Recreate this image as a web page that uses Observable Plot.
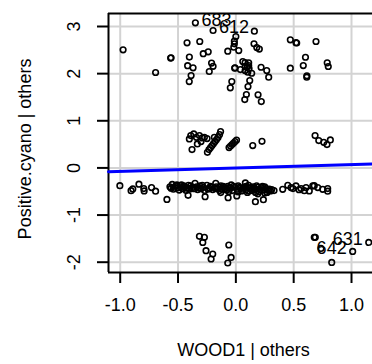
<!DOCTYPE html>
<html><head><meta charset="utf-8">
<script src="https://cdn.jsdelivr.net/npm/d3@7"></script>
<script src="https://cdn.jsdelivr.net/npm/@observablehq/plot@0.6"></script>
<style>body{margin:0;background:#fff}</style>
</head><body><div id="chart"></div>
<script>
// Added-variable plot: residuals of WOOD1 | others (x) vs Positive.cyano | others (y)
const topX = [-0.975,-0.694,-0.560,-0.564,-0.422,-0.312,-0.402,-0.417,-0.370,-0.387,-0.403,-0.282,-0.239,-0.210,-0.197,-0.230,-0.350,-0.197,0.000,-0.013,-0.013,-0.018,-0.070,0.025,0.160,0.157,0.181,0.203,0.060,0.111,0.111,-0.010,0.039,0.080,0.103,0.137,0.218,0.267,0.284,-0.035,-0.048,0.120,0.105,0.091,0.077,0.192,0.220,0.471,0.520,0.526,0.693,0.602,0.583,0.471,0.614,0.613,0.790,0.799,-0.007,0.080,0.097,0.114,0.080];
const topY = [2.505,2.024,2.335,2.331,2.654,2.682,2.352,2.168,2.123,1.960,1.832,2.423,2.463,2.225,2.155,2.045,3.079,2.915,2.788,2.688,2.633,2.561,2.476,2.490,2.900,2.633,2.554,2.522,2.257,2.229,2.172,2.115,2.087,2.066,2.030,2.008,2.136,2.066,1.924,1.832,1.699,1.854,1.726,1.556,1.450,1.550,1.408,2.718,2.656,2.650,2.682,2.348,2.172,2.115,1.955,1.924,2.229,2.151,2.123,2.236,2.151,2.108,2.151];

const midX = [-0.402,-0.390,-0.364,-0.341,-0.315,-0.290,-0.272,-0.249,-0.186,-0.246,-0.232,-0.219,-0.206,-0.193,-0.180,-0.167,-0.154,-0.141,-0.132,-0.333,-0.379,-0.301,-0.059,-0.046,-0.033,-0.020,-0.007,0.006,0.146,0.226,0.685,0.717,0.760,0.788,0.817];
const midY = [0.616,0.686,0.722,0.650,0.686,0.637,0.650,0.622,0.650,0.331,0.389,0.431,0.473,0.516,0.558,0.601,0.643,0.707,0.771,0.510,0.389,0.558,0.431,0.463,0.495,0.527,0.558,0.590,0.473,0.565,0.686,0.580,0.544,0.495,0.594];

const bandLeftX = [-1.003,-0.906,-0.891,-0.838,-0.793,-0.796,-0.729,-0.694,-0.596];
const bandLeftY = [-0.376,-0.482,-0.446,-0.344,-0.488,-0.439,-0.418,-0.493,-0.669];

const bandDenseX = [-0.57,-0.55,-0.54,-0.52,-0.50,-0.49,-0.47,-0.46,-0.44,-0.43,-0.41,-0.40,-0.38,-0.353,-0.413,-0.34,-0.33,-0.31,-0.30,-0.28,-0.27,-0.25,-0.266,-0.23,-0.22,-0.20,-0.174,-0.17,-0.16,-0.131,-0.13,-0.12,-0.10,-0.067,-0.08,-0.07,-0.05,-0.04,-0.03,-0.01,0.008,0.01,0.02,0.04,0.05,0.082,0.08,0.09,0.10,0.11,0.12,0.169,0.14,0.15,0.17,0.18,0.238,0.20,0.22,0.24,0.25,0.27,0.29,0.30,0.33];
const bandDenseY = [-0.40,-0.35,-0.45,-0.38,-0.42,-0.47,-0.36,-0.44,-0.40,-0.48,-0.37,-0.45,-0.42,-0.327,-0.582,-0.40,-0.46,-0.38,-0.44,-0.41,-0.48,-0.37,-0.609,-0.43,-0.39,-0.46,-0.327,-0.40,-0.44,-0.524,-0.38,-0.45,-0.41,-0.631,-0.47,-0.39,-0.43,-0.36,-0.48,-0.41,-0.594,-0.45,-0.38,-0.43,-0.49,-0.318,-0.40,-0.46,-0.52,-0.37,-0.43,-0.715,-0.48,-0.40,-0.45,-0.38,-0.673,-0.50,-0.42,-0.47,-0.40,-0.52,-0.45,-0.49,-0.48];

const bandCoreX = [-0.56,-0.53,-0.51,-0.48,-0.45,-0.42,-0.39,-0.36,-0.32,-0.29,-0.24,-0.21,-0.18,-0.14,-0.11,-0.09,-0.06,-0.02,0.03,0.06,0.09,0.13,0.16,0.19,0.21,0.23,0.26,0.28,0.31,-0.06,0.02,0.11,-0.14,0.17,0.19,0.25];
const bandCoreY = [-0.43,-0.41,-0.36,-0.40,-0.38,-0.43,-0.38,-0.44,-0.42,-0.37,-0.45,-0.41,-0.43,-0.41,-0.39,-0.44,-0.42,-0.39,-0.41,-0.45,-0.39,-0.42,-0.43,-0.41,-0.46,-0.39,-0.44,-0.48,-0.46,-0.50,-0.51,-0.49,-0.48,-0.52,-0.55,-0.53];

const bandRightX = [0.405,0.449,0.477,0.520,0.564,0.607,0.635,0.665,0.708,0.751,0.794,0.794,0.592,0.546,0.494,0.678];
const bandRightY = [-0.454,-0.369,-0.418,-0.382,-0.439,-0.418,-0.488,-0.382,-0.418,-0.454,-0.439,-0.493,-0.482,-0.461,-0.439,-0.376];

const lowX = [-0.315,-0.272,-0.286,-0.258,-0.200,-0.214,-0.061,-0.041,-0.070,0.678,0.687,0.736,1.010,1.149,0.829];
const lowY = [-1.452,-1.473,-1.580,-1.756,-1.826,-1.932,-1.635,-1.898,-2.017,-1.473,-1.473,-1.707,-1.771,-1.580,-2.004];

const labelIds = ["683", "612", "631", "642"];
const labelX = [-0.350, -0.197, 1.149, 1.010];
const labelY = [3.079, 2.915, -1.580, -1.771];

const xTicks = [-1, -0.5, 0, 0.5, 1];
const yTicks = [-2, -1, 0, 1, 2, 3];
const fitSlope = 0.0716;
const fitIntercept = 0;
const xTitle = "WOOD1 | others";
const yTitle = "Positive.cyano | others";

const xDomain = [-1.1012, 1.1815];
const yDomain = [-2.2185, 3.2758];

const groupsX = [topX, midX, bandLeftX, bandDenseX, bandCoreX, bandRightX, lowX];
const groupsY = [topY, midY, bandLeftY, bandDenseY, bandCoreY, bandRightY, lowY];
const points = [];
groupsX.forEach((gx, g) => gx.forEach((x, i) => points.push({x, y: groupsY[g][i]})));

const labels = labelIds.map((id, i) => ({id, x: labelX[i], y: labelY[i]}));
const fitData = xDomain.map(x => ({x, y: fitIntercept + fitSlope * x}));

const chart = Plot.plot({
  width: 372,
  height: 364,
  marginLeft: 108,
  marginRight: 0,
  marginTop: 13,
  marginBottom: 92,
  style: {fontFamily: "'Liberation Sans', Arial, Helvetica, sans-serif", fontSize: "18px", background: "#fff", color: "#000"},
  x: {domain: xDomain},
  y: {domain: yDomain},
  marks: [
    Plot.gridX(xTicks, {stroke: "#d3d3d3", strokeOpacity: 1, strokeWidth: 2}),
    Plot.gridY(yTicks, {stroke: "#d3d3d3", strokeOpacity: 1, strokeWidth: 2}),
    Plot.ruleX([xDomain[0]], {stroke: "#000", strokeWidth: 2}),
    Plot.ruleY(yDomain, {stroke: "#000", strokeWidth: 2}),
    Plot.axisX(xTicks, {tickSize: 11, tickPadding: 15, tickFormat: d => d.toFixed(1), label: null, strokeWidth: 2}),
    Plot.axisY(yTicks, {tickSize: 11, tickPadding: 18, tickRotate: -90, tickFormat: d => String(d), label: null, strokeWidth: 2}),
    Plot.dot(points, {x: "x", y: "y", r: 2.8, stroke: "#000", strokeWidth: 1.6, fill: "none"}),
    Plot.line(fitData, {x: "x", y: "y", stroke: "#0000ff", strokeWidth: 3}),
    Plot.text(labels.filter(d => d.x < 0), {x: "x", y: "y", text: "id", textAnchor: "start", dx: 6, dy: -3, fill: "#000"}),
    Plot.text(labels.filter(d => d.x >= 0), {x: "x", y: "y", text: "id", textAnchor: "end", dx: -6, dy: -3, fill: "#000"}),
    Plot.text([xTitle], {frameAnchor: "bottom", text: d => d, textAnchor: "middle", lineAnchor: "middle", dx: 3, dy: 78, fill: "#000"}),
    Plot.text([yTitle], {frameAnchor: "left", text: d => d, textAnchor: "middle", lineAnchor: "middle", dx: -83, dy: 6, rotate: -90, fill: "#000"})
  ]
});
document.getElementById("chart").appendChild(chart);
</script>
</body></html>
